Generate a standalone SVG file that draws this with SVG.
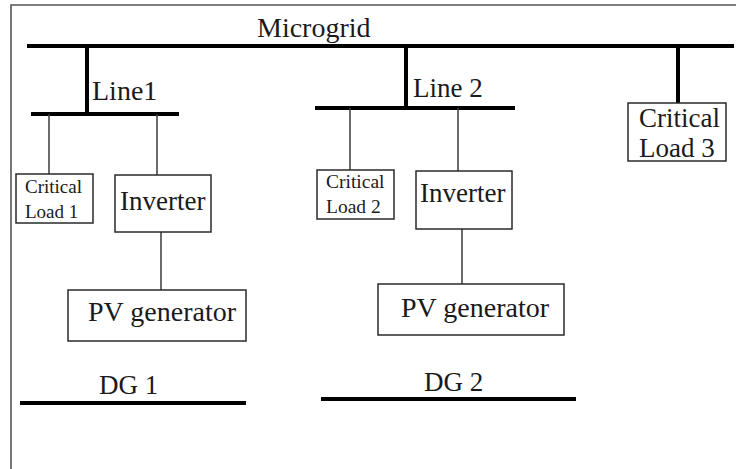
<svg xmlns="http://www.w3.org/2000/svg" width="736" height="469" viewBox="0 0 736 469">
<style>
text{font-family:"Liberation Serif","Times New Roman",serif;fill:#1a1a1a}
.box{fill:#fff;stroke:#2a2a2a;stroke-width:1.5}
.bus{stroke:#000;stroke-width:4;fill:none}
.wire{stroke:#3a3a3a;stroke-width:1.5;fill:none}
.frame{stroke:#555;stroke-width:1.6;fill:none}
</style>
<rect width="736" height="469" fill="#fff"/>
<path class="frame" d="M11,469 V5 H736"/>
<g id="connectors">
<line class="bus" x1="27" y1="46" x2="734" y2="46"/>
<line class="bus" x1="87" y1="46" x2="87" y2="114"/>
<line class="bus" x1="31" y1="114" x2="179" y2="114"/>
<line class="bus" x1="406" y1="46" x2="406" y2="108"/>
<line class="bus" x1="315" y1="108" x2="515" y2="108"/>
<line class="bus" x1="678" y1="46" x2="678" y2="103"/>
<line class="wire" x1="49" y1="114" x2="49" y2="174"/>
<line class="wire" x1="157" y1="114" x2="157" y2="175"/>
<line class="wire" x1="161" y1="232" x2="161" y2="290"/>
<line class="wire" x1="350" y1="108" x2="350" y2="170"/>
<line class="wire" x1="458" y1="108" x2="458" y2="171"/>
<line class="wire" x1="462" y1="229" x2="462" y2="284"/>
</g>
<g id="microgrid"><text x="257" y="37" font-size="28">Microgrid</text></g>
<g id="line1"><text x="92" y="100" font-size="28">Line1</text></g>
<g id="line2"><text x="413" y="97" font-size="27">Line 2</text></g>
<g id="critical-load-1">
<rect class="box" x="16" y="174" width="77" height="49"/>
<text x="25" y="193" font-size="19">Critical</text>
<text x="25" y="218" font-size="19">Load 1</text>
</g>
<g id="inverter-1">
<rect class="box" x="115" y="175" width="96" height="57"/>
<text x="120" y="210" font-size="27">Inverter</text>
</g>
<g id="pv-generator-1">
<rect class="box" x="68" y="290" width="178" height="51"/>
<text x="88" y="321" font-size="28">PV generator</text>
</g>
<g id="dg1">
<text x="99" y="394" font-size="27">DG 1</text>
<line class="bus" x1="20" y1="403" x2="246" y2="403"/>
</g>
<g id="critical-load-2">
<rect class="box" x="317" y="170" width="77" height="49"/>
<text x="326" y="188" font-size="19.5">Critical</text>
<text x="326" y="213" font-size="19.5">Load 2</text>
</g>
<g id="inverter-2">
<rect class="box" x="416" y="171" width="96" height="58"/>
<text x="420" y="202" font-size="27">Inverter</text>
</g>
<g id="pv-generator-2">
<rect class="box" x="378" y="284" width="186" height="51"/>
<text x="401" y="317" font-size="28">PV generator</text>
</g>
<g id="dg2">
<text x="424" y="391" font-size="27">DG 2</text>
<line class="bus" x1="321" y1="399" x2="576" y2="399"/>
</g>
<g id="critical-load-3">
<rect class="box" x="628" y="103" width="98" height="58"/>
<text x="639" y="127" font-size="27">Critical</text>
<text x="639" y="157" font-size="27">Load 3</text>
</g>
</svg>
